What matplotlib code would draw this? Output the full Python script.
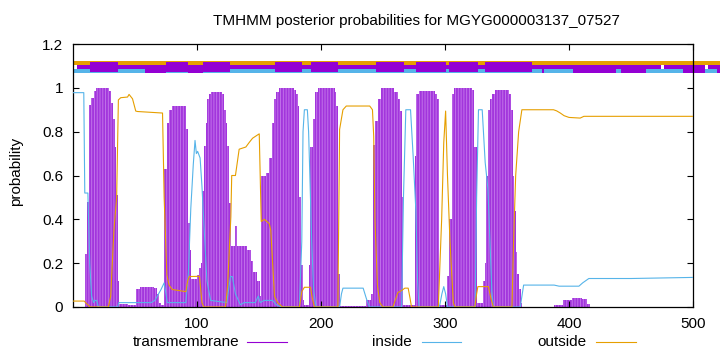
import matplotlib
matplotlib.use('Agg')
import matplotlib.pyplot as plt
from matplotlib.lines import Line2D

plt.rcParams['font.family'] = ['Liberation Sans', 'DejaVu Sans']
plt.rcParams['font.size'] = 11
plt.rcParams['hatch.linewidth'] = 1.3

TM_COLOR = '#9400d3'
IN_COLOR = '#56b4e9'
OUT_COLOR = '#e69f00'

title = 'TMHMM posterior probabilities for MGYG000003137_07527'

# transmembrane posterior (step profile)
tm_res = [0, 9.9, 11.2, 13.1, 14.7, 16.6, 18.5, 28.7, 30.6, 32.2, 33.6, 34.7, 36.0, 36.8,
          44, 50.6, 54.4, 65.2, 68, 69.5, 71,
          73.5, 75.5, 77.5, 79.5, 91.5, 93.0, 94.5, 95.5, 99.7, 101.6, 103,
          104.3, 105.7, 107, 108.4, 109.7, 111, 120.5, 121.9, 123.2, 124.5, 125.9,
          127.3, 130.5, 132, 140.7, 143.5, 145.5, 148.5, 150.5,
          151.6, 156, 158.3, 160.2, 162.3, 163.7, 166.4, 178.5, 180, 181.2, 182.6, 184, 185.3, 186.5,
          190.7, 191.5, 193.4, 195.3, 197.4, 211, 212.3, 213.6, 215,
          236, 240, 242, 243.3, 246, 248.2, 258.7, 261.7, 263.6, 265, 266.2,
          275.7, 277, 279, 292, 293.5, 295,
          301.4, 303.2, 305.4, 307.5, 321.6, 323.7, 325.7,
          331, 332, 333, 334.5, 336.4, 338, 340, 351.4, 353, 354.5, 355.8, 357, 358.3, 359.6, 361, 362.3,
          388, 395.3, 402.2, 410.5, 414.5, 417.3, 500]
tm_prob = [0.0, 0.24, 0.48, 0.92, 0.955, 0.985, 1.0, 0.985, 0.93, 0.856, 0.73, 0.51, 0.12, 0.015,
           0.01, 0.08, 0.093, 0.085, 0.06, 0.02, 0.01,
           0.63, 0.84, 0.9, 0.917, 0.81, 0.385, 0.26, 0.13, 0.145, 0.18, 0.2,
           0.53, 0.734, 0.84, 0.948, 0.97, 0.98, 0.97, 0.9, 0.84, 0.734, 0.475,
           0.28, 0.37, 0.28, 0.26, 0.21, 0.16, 0.12, 0.05,
           0.60, 0.61, 0.68, 0.84, 0.948, 0.98, 1.0, 0.99, 0.97, 0.917, 0.5, 0.19, 0.03, 0.01,
           0.19, 0.73, 0.86, 0.98, 1.0, 0.98, 0.917, 0.15, 0.005,
           0.03, 0.06, 0.74, 0.85, 0.95, 1.0, 0.98, 0.95, 0.894, 0.5, 0.01,
           0.69, 0.97, 0.985, 0.97, 0.95, 0.01,
           0.14, 0.4, 0.97, 1.0, 0.99, 0.73, 0.02,
           0.12, 0.2, 0.6, 0.9, 0.95, 0.97, 0.99, 0.97, 0.9, 0.6, 0.44, 0.25, 0.15, 0.08, 0.02, 0.0,
           0.01, 0.03, 0.04, 0.035, 0.015, 0.0, 0.0]

# inside posterior
in_res = [0, 8.7, 9.5, 12, 13.5, 15, 16.6, 17.5, 19, 20.5, 36, 37, 63, 66, 71, 73.5, 75, 76,
          91, 93, 95, 97, 98.4, 99.5, 100.5, 102.5, 104, 106.5, 108, 111,
          124, 126, 127, 128.5, 131, 135, 138, 147, 149.4, 151, 154, 161, 164, 168,
          182.6, 184.5, 185.5, 186.6, 189, 190, 191, 192.5, 194, 196,
          215, 216.5, 217.7, 234, 236.5, 239,
          265, 266.5, 268.4, 272.2, 274.3, 276.5, 277.9, 279,
          295.5, 297.5, 299, 300.5, 302,
          324.3, 325.5, 327, 330, 332.4, 334.6, 336.4, 337.8, 339,
          360.7, 363.4, 388, 392, 408, 411, 416, 450, 500]
in_prob = [0.978, 0.978, 0.52, 0.52, 0.2, 0.05, 0.02, 0.03, 0.03, 0.0, 0.0, 0.02, 0.02, 0.03, 0.08, 0.11, 0.06, 0.02,
           0.02, 0.15, 0.45, 0.65, 0.76, 0.70, 0.71, 0.68, 0.55, 0.28, 0.12, 0.03,
           0.02, 0.1, 0.139, 0.139, 0.06, 0.01, 0.02, 0.02, 0.05, 0.02, 0.03, 0.03, 0.01, 0.0,
           0.0, 0.3, 0.8, 0.9, 0.9, 0.8, 0.6, 0.3, 0.08, 0.0,
           0.0, 0.06, 0.086, 0.086, 0.04, 0.0,
           0.0, 0.5, 0.9, 0.9, 0.69, 0.44, 0.12, 0.0,
           0.0, 0.06, 0.093, 0.06, 0.0,
           0.0, 0.5, 0.9, 0.9, 0.66, 0.54, 0.28, 0.07, 0.0,
           0.0, 0.1, 0.1, 0.095, 0.095, 0.11, 0.13, 0.13, 0.135]

# outside posterior
out_res = [0, 9, 11, 14, 28.5, 30.4, 33, 35.2, 36.6, 38.5, 44, 45.2, 48, 50.6, 52, 72.2,
           73.5, 75.7, 77.5, 80, 91, 92.5, 93.8, 102, 104, 105.5,
           123, 124.7, 127.3, 128, 131, 134, 139.4, 142, 144.8, 148.8, 150.2,
           151.8, 154.3, 158.3, 159.5, 162.5, 165, 169,
           182.6, 184.5, 186.6, 191.5, 193, 194.7,
           213.6, 215, 217.7, 220.4, 239.3, 241.5, 242.5, 243.5, 245.5, 247.4, 250,
           258, 262, 265, 267.6, 270.3, 271.8, 273,
           294.6, 297.3, 299, 300.5, 302, 304, 306.7, 308,
           324, 325.5, 326.5, 335, 337, 339,
           354, 355.3, 357, 359.4, 362, 387.5, 390, 393, 396, 400, 409, 412, 500]
out_prob = [0.027, 0.027, 0.015, 0.0, 0.0, 0.05, 0.35, 0.5, 0.945, 0.955, 0.958, 0.97, 0.95, 0.894, 0.892, 0.885,
            0.5, 0.146, 0.1, 0.08, 0.07, 0.12, 0.139, 0.14, 0.02, 0.0,
            0.0, 0.1, 0.41, 0.6, 0.6, 0.72, 0.73, 0.75, 0.77, 0.785, 0.79,
            0.39, 0.40, 0.38, 0.35, 0.05, 0.02, 0.0,
            0.0, 0.07, 0.09, 0.09, 0.04, 0.0,
            0.0, 0.81, 0.90, 0.917, 0.917, 0.90, 0.78, 0.4, 0.1, 0.02, 0.0,
            0.0, 0.066, 0.075, 0.086, 0.086, 0.04, 0.0,
            0.0, 0.4, 0.75, 0.894, 0.6, 0.3, 0.02, 0.0,
            0.0, 0.06, 0.093, 0.093, 0.04, 0.0,
            0.0, 0.3, 0.6, 0.8, 0.9, 0.9, 0.895, 0.885, 0.873, 0.865, 0.862, 0.87, 0.87]

# topology strip on top (residue ranges)
tm_thick = [(14, 36), (75, 93), (105, 127), (163, 185), (192, 214),
            (244, 267), (277, 301), (303, 327), (332, 370)]
tm_cover = [(58, 75), (93, 105), (378, 380), (403, 438), (442, 462), (492, 510), (519, 522)]
tm_thin = [(3, 474), (477, 510), (512, 522)]
strip_end = 522


def spans(pairs):
    return [(a, b - a) for a, b in pairs]


fig = plt.figure(figsize=(7.2, 3.52), dpi=100)
ax = fig.add_axes([73 / 720, 45 / 352, 620 / 720, 263 / 352])

ax.fill_between(tm_res, tm_prob, step='post', facecolor='#c273ea',
                edgecolor='#a235dc', hatch='||||||', linewidth=0, zorder=1)
ax.plot(in_res, in_prob, color=IN_COLOR, lw=0.8, zorder=3)
ax.plot(out_res, out_prob, color=OUT_COLOR, lw=0.8, zorder=3)

ax.broken_barh([(0, strip_end)], (1.105, 0.018), facecolors=OUT_COLOR,
               linewidth=0, clip_on=False, zorder=2)
ax.broken_barh([(0, strip_end)], (1.068, 0.016), facecolors=IN_COLOR,
               linewidth=0, clip_on=False, zorder=2)
ax.broken_barh(spans(tm_thin), (1.084, 0.021), facecolors=TM_COLOR,
               linewidth=0, clip_on=False, zorder=2)
ax.broken_barh(spans(tm_cover), (1.068, 0.037), facecolors=TM_COLOR,
               linewidth=0, clip_on=False, zorder=2)
ax.broken_barh(spans(tm_thick), (1.071, 0.046), facecolors=TM_COLOR,
               linewidth=0, clip_on=False, zorder=2)

ax.set_xlim(0, 500)
ax.set_ylim(0, 1.2)
ax.set_xticks([100, 200, 300, 400, 500])
ax.set_yticks([0, 0.2, 0.4, 0.6, 0.8, 1.0, 1.2])
ax.set_yticklabels(['0', '0.2', '0.4', '0.6', '0.8', '1', '1.2'])
ax.tick_params(direction='in', top=True, right=True, length=4, width=0.8,
               labelsize=11, pad=7)
for s in ax.spines.values():
    s.set_linewidth(0.9)

fig.text(416 / 720, 1 - 21 / 352, title, ha='center', va='center', fontsize=11)
fig.text(16 / 720, 1 - 171 / 352, 'probability', rotation=90,
         ha='center', va='center', fontsize=11)

# legend row, gnuplot style: right-aligned text then a line sample
leg_y = 1 - 342 / 352
for label, color, x_text, x0, x1 in [('transmembrane', TM_COLOR, 239, 247, 287),
                                      ('inside', IN_COLOR, 412, 422, 461),
                                      ('outside', OUT_COLOR, 586, 596, 636)]:
    fig.text(x_text / 720, leg_y, label, ha='right', va='center', fontsize=11)
    fig.add_artist(Line2D([x0 / 720, x1 / 720], [leg_y, leg_y], color=color,
                          lw=0.8, transform=fig.transFigure))

fig.savefig('out.png', dpi=100)
